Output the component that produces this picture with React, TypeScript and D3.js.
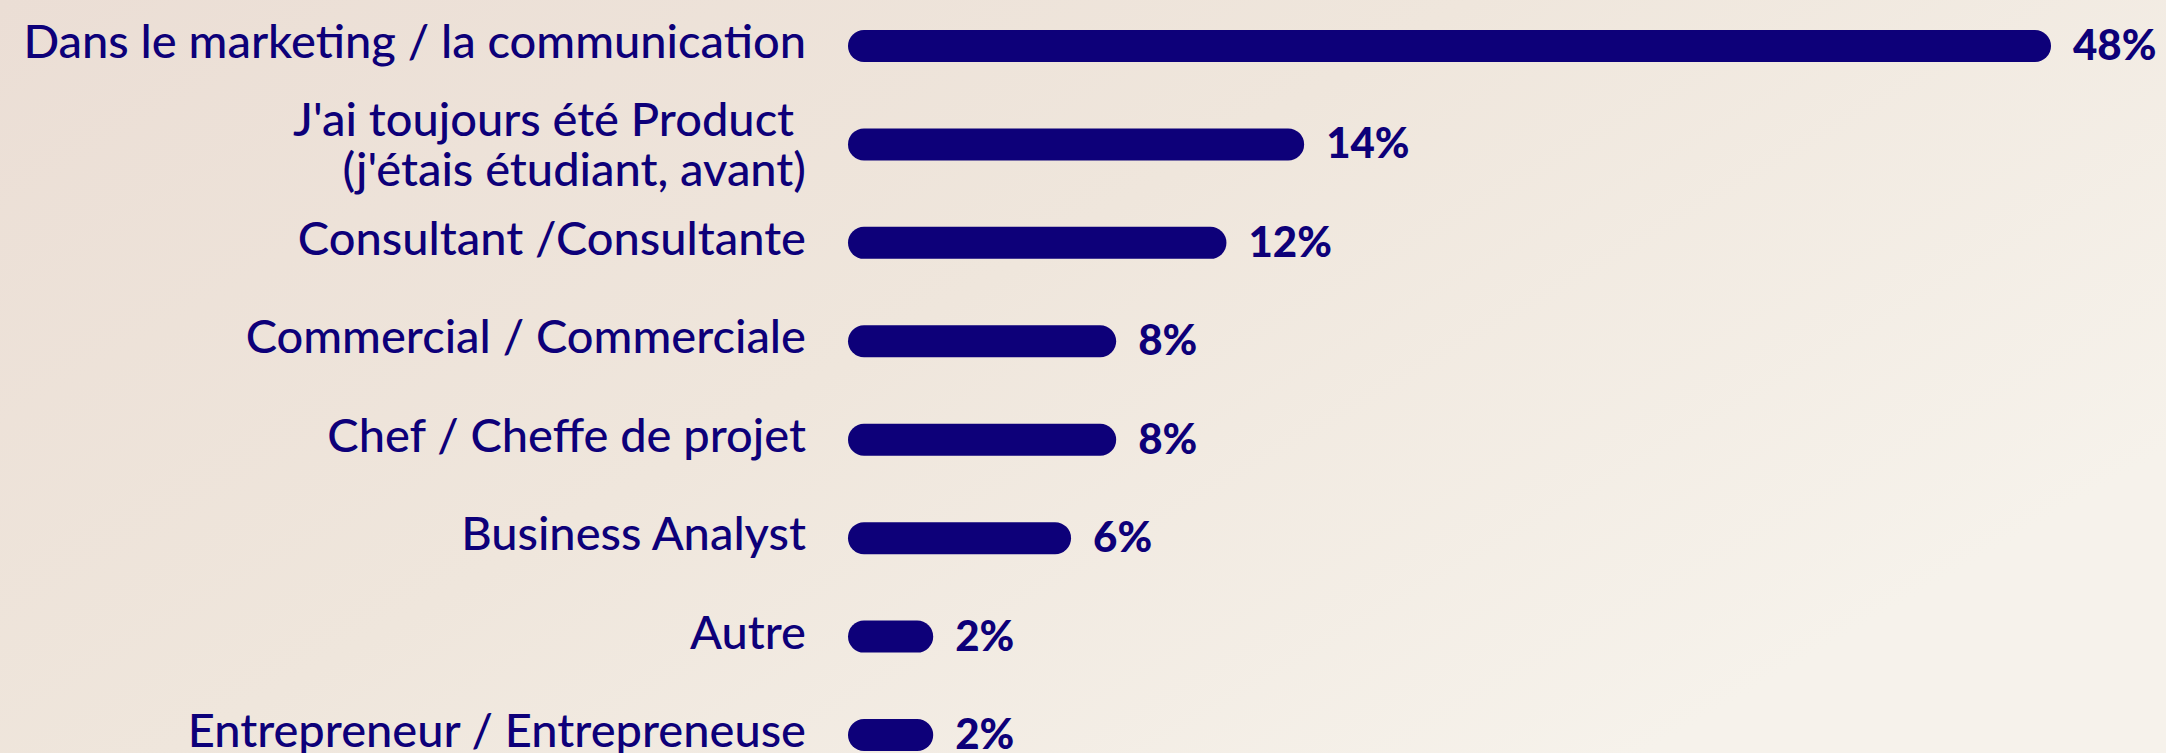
import React from 'react';
import * as d3 from 'd3';

const categories = [
  "Dans le marketing / la communication",
  "J'ai toujours été Product \n(j'étais étudiant, avant)",
  "Consultant /Consultante",
  "Commercial / Commerciale",
  "Chef / Cheffe de projet",
  "Business Analyst",
  "Autre",
  "Entrepreneur / Entrepreneuse",
];
// printed percentages
const percentLabels = [48, 14, 12, 8, 8, 6, 2, 2];
// bar lengths as drawn in the picture (in % units, on the 48% bar's scale)
const barLengths = [48, 18.2, 15.1, 10.7, 10.7, 8.9, 3.4, 3.4];

const W = 2166;
const H = 753;
const NAVY = '#0d0079';

export default function App() {
  const x = d3.scaleLinear().domain([0, 48]).range([848, 2051]);
  const y = d3.scalePoint<string>().domain(categories).range([46, 735]);
  const barH = 32;
  const labelX = 806;
  const labelSize = 47;
  const lineH = 50;
  const valueSize = 42;

  return (
    <svg width={W} height={H} style={{ position: 'fixed', left: 0, top: 0 }}>
      <defs>
        <linearGradient id="bg" x1="0" y1="0" x2="1" y2="0.6">
          <stop offset="0" stopColor="#ebded5" />
          <stop offset="0.5" stopColor="#efe6dc" />
          <stop offset="1" stopColor="#f6f2eb" />
        </linearGradient>
      </defs>
      <rect x={0} y={0} width={W} height={H} fill="url(#bg)" />
      {categories.map((c, i) => {
        const cy = y(c) as number;
        const lines = c.split('\n');
        const first = cy + 12 + (lines.length - 1) * (5 - lineH / 2);
        return (
          <g key={c}>
            <text
              x={labelX}
              textAnchor="end"
              fill={NAVY}
              fontFamily="Lato, 'Open Sans', sans-serif"
              fontWeight={500}
              fontSize={labelSize}
              style={{ whiteSpace: 'pre' }}
            >
              {lines.map((l, j) => (
                <tspan key={j} x={labelX} y={first + j * lineH}>{l}</tspan>
              ))}
            </text>
            <rect
              x={x(0)}
              y={cy - barH / 2}
              width={x(barLengths[i]) - x(0)}
              height={barH}
              rx={barH / 2}
              fill={NAVY}
            />
            <text
              x={x(barLengths[i]) + 22}
              y={cy + 14}
              fill={NAVY}
              fontFamily="Lato, sans-serif"
              fontWeight={900}
              fontSize={valueSize}
            >
              {percentLabels[i]}%
            </text>
          </g>
        );
      })}
    </svg>
  );
}
